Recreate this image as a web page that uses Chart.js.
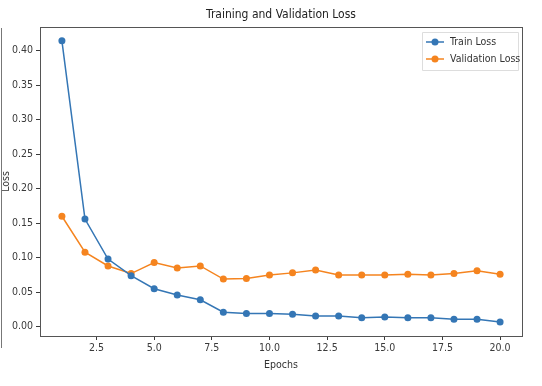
<!DOCTYPE html>
<html>
<head>
<meta charset="utf-8">
<script src="https://cdn.jsdelivr.net/npm/chart.js@4"></script>
<style>
  html, body { margin: 0; padding: 0; background: #fff; }
  #wrap { position: relative; width: 542px; height: 386px; }
  #edge { position: absolute; left: 1px; top: 28px; width: 1px; height: 320px; background: #777; }
</style>
</head>
<body>
<div id="wrap">
  <canvas id="myChart" width="542" height="386"></canvas>
  <div id="edge"></div>
</div>
<script>
/* data */
const epochs = [1, 2, 3, 4, 5, 6, 7, 8, 9, 10, 11, 12, 13, 14, 15, 16, 17, 18, 19, 20];
const trainLoss = [0.414, 0.156, 0.098, 0.074, 0.055, 0.046, 0.039, 0.021, 0.019, 0.019, 0.018, 0.0155, 0.0155, 0.013, 0.014, 0.013, 0.013, 0.011, 0.011, 0.007];
const valLoss = [0.160, 0.108, 0.088, 0.077, 0.093, 0.085, 0.088, 0.069, 0.070, 0.075, 0.078, 0.082, 0.075, 0.075, 0.075, 0.076, 0.075, 0.077, 0.081, 0.076];
const xTicks = [2.5, 5, 7.5, 10, 12.5, 15, 17.5, 20];
const yTicks = [0, 0.05, 0.1, 0.15, 0.2, 0.25, 0.3, 0.35, 0.4];
const chartTitle = 'Training and Validation Loss';

const FONT = "'DejaVu Sans Condensed', 'Liberation Sans Narrow', 'DejaVu Sans', sans-serif";
const INK = '#3a3a3a';

/* frame round the plot, title over the axes, legend box */
const framePlugin = {
    id: 'frame',
    afterDraw(chart) {
        const ctx = chart.ctx;
        const a = chart.chartArea;
        ctx.save();
        ctx.strokeStyle = '#555';
        ctx.lineWidth = 1;
        ctx.strokeRect(Math.round(a.left) + 0.5, Math.round(a.top) + 0.5, Math.round(a.right - a.left), Math.round(a.bottom - a.top));

        // title, centred over the plot like matplotlib
        ctx.fillStyle = '#222';
        ctx.font = '12px ' + FONT;
        ctx.textAlign = 'center';
        ctx.textBaseline = 'middle';
        ctx.fillText(chartTitle, (a.left + a.right) / 2, 14.5);

        // legend
        const bx = a.right - 100, by = a.top + 5, bw = 96, bh = 38;
        ctx.fillStyle = 'rgba(255,255,255,0.8)';
        ctx.strokeStyle = '#ddd';
        ctx.beginPath();
        ctx.rect(bx + 0.5, by + 0.5, bw, bh);
        ctx.fill();
        ctx.stroke();
        ctx.font = '10.5px ' + FONT;
        ctx.textAlign = 'left';
        chart.data.datasets.forEach(function(ds, i) {
            const y = by + 10 + i * 17;
            ctx.strokeStyle = ds.borderColor;
            ctx.lineWidth = 1.5;
            ctx.beginPath();
            ctx.moveTo(bx + 4, y);
            ctx.lineTo(bx + 22, y);
            ctx.stroke();
            ctx.fillStyle = ds.borderColor;
            ctx.beginPath();
            ctx.arc(bx + 13, y, 3.5, 0, Math.PI * 2);
            ctx.fill();
            ctx.fillStyle = '#333';
            ctx.fillText(ds.label, bx + 28, y + 0.5);
        });
        ctx.restore();
    }
};

const ctx = document.getElementById('myChart');
const myChart = new Chart(ctx, {
    type: 'line',
    data: {
        datasets: [{
            label: 'Train Loss',
            data: epochs.map(function(e, i) { return {x: e, y: trainLoss[i]}; }),
            borderColor: '#3476b5',
            backgroundColor: '#3476b5',
            borderWidth: 1.5,
            pointRadius: 3.5,
            pointHoverRadius: 3.5,
            pointBorderWidth: 0
        }, {
            label: 'Validation Loss',
            data: epochs.map(function(e, i) { return {x: e, y: valLoss[i]}; }),
            borderColor: '#f5841f',
            backgroundColor: '#f5841f',
            borderWidth: 1.5,
            pointRadius: 3.5,
            pointHoverRadius: 3.5,
            pointBorderWidth: 0
        }]
    },
    options: {
        responsive: false,
        animation: false,
        layout: { padding: { left: 0, right: 20, top: 27, bottom: 14 } },
        plugins: {
            legend: { display: false },
            tooltip: { enabled: false },
            title: { display: false }
        },
        scales: {
            x: {
                type: 'linear',
                min: 0.05,
                max: 20.95,
                afterBuildTicks: function(scale) { scale.ticks = xTicks.map(function(v) { return {value: v}; }); },
                afterFit: function(scale) { scale.height = 36; },
                grid: { drawOnChartArea: false, drawTicks: true, tickLength: 4, tickColor: INK },
                border: { display: false },
                ticks: {
                    color: INK,
                    padding: 2,
                    maxRotation: 0,
                    font: { family: FONT, size: 10.5 },
                    callback: function(v) { return Number(v).toFixed(1); }
                },
                title: {
                    display: true,
                    text: 'Epochs',
                    color: '#333',
                    font: { family: FONT, size: 10.5 },
                    padding: { top: 3, bottom: 0 }
                }
            },
            y: {
                min: -0.0134,
                max: 0.434,
                afterBuildTicks: function(scale) { scale.ticks = yTicks.map(function(v) { return {value: v}; }); },
                afterFit: function(scale) { scale.width = 40; },
                grid: { drawOnChartArea: false, drawTicks: true, tickLength: 4, tickColor: INK },
                border: { display: false },
                ticks: {
                    color: INK,
                    padding: 3,
                    font: { family: FONT, size: 10.5 },
                    callback: function(v) { return Number(v).toFixed(2); }
                },
                title: {
                    display: true,
                    text: 'Loss',
                    color: '#333',
                    font: { family: FONT, size: 10.5 },
                    padding: { top: 0, bottom: 0 }
                }
            }
        }
    },
    plugins: [framePlugin]
});
</script>
</body>
</html>
